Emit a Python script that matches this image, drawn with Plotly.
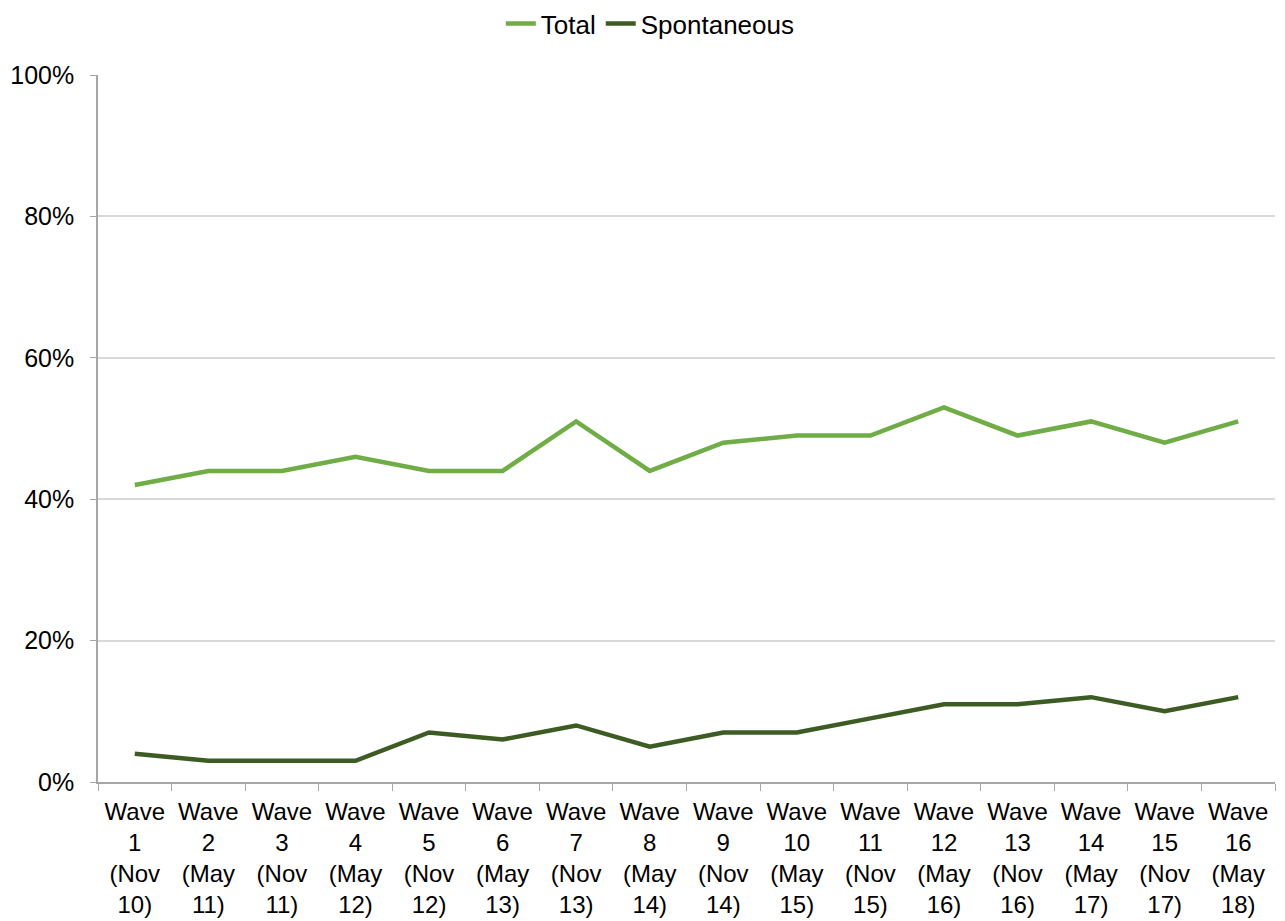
import plotly.graph_objects as go

categories = [
    "Wave<br>1<br>(Nov<br>10)", "Wave<br>2<br>(May<br>11)", "Wave<br>3<br>(Nov<br>11)",
    "Wave<br>4<br>(May<br>12)", "Wave<br>5<br>(Nov<br>12)", "Wave<br>6<br>(May<br>13)",
    "Wave<br>7<br>(Nov<br>13)", "Wave<br>8<br>(May<br>14)", "Wave<br>9<br>(Nov<br>14)",
    "Wave<br>10<br>(May<br>15)", "Wave<br>11<br>(Nov<br>15)", "Wave<br>12<br>(May<br>16)",
    "Wave<br>13<br>(Nov<br>16)", "Wave<br>14<br>(May<br>17)", "Wave<br>15<br>(Nov<br>17)",
    "Wave<br>16<br>(May<br>18)",
]
total = [42, 44, 44, 46, 44, 44, 51, 44, 48, 49, 49, 53, 49, 51, 48, 51]
spontaneous = [4, 3, 3, 3, 7, 6, 8, 5, 7, 7, 9, 11, 11, 12, 10, 12]
y_ticks = [0, 20, 40, 60, 80, 100]

fig = go.Figure()
fig.add_trace(go.Scatter(x=categories, y=total, mode="lines", name="Total",
                         line=dict(color="#70AD47", width=4.5)))
fig.add_trace(go.Scatter(x=categories, y=spontaneous, mode="lines", name="Spontaneous",
                         line=dict(color="#3D5C23", width=4.5)))

family = "Liberation Sans, Arial, sans-serif"
yfont = dict(family=family, size=25, color="#000000")
xfont = dict(family=family, size=24, color="#000000")
legend_font = dict(family=family, size=26, color="#000000")
fig.update_layout(
    width=1277, height=913,
    margin=dict(l=90, r=10, t=67, b=139, autoexpand=False),
    paper_bgcolor="white", plot_bgcolor="white",
    font=yfont,
    showlegend=True,
    legend=dict(orientation="h", x=0.503, xanchor="center", xref="container",
                y=1.106, yanchor="top", yref="paper",
                font=legend_font, traceorder="normal", itemwidth=30),
)
fig.update_xaxes(
    type="category", range=[-0.5, 15.5], tickson="boundaries", ticks="outside", ticklen=7,
    tickcolor="#A6A6A6", showline=True, linecolor="#A6A6A6", linewidth=1.5,
    showgrid=False, tickangle=0, tickfont=xfont, ticklabelstandoff=7, automargin=False,
)
fig.update_yaxes(
    range=[0, 100], tickvals=y_ticks, ticktext=[f"{v}%" for v in y_ticks],
    ticks="outside", ticklen=6, tickcolor="#A6A6A6",
    showline=True, linecolor="#A6A6A6", linewidth=1.5,
    showgrid=True, gridcolor="#D9D9D9", gridwidth=1.5,
    zeroline=False, tickfont=yfont, ticklabelstandoff=11, automargin=False,
)
fig.write_html("out.html")
